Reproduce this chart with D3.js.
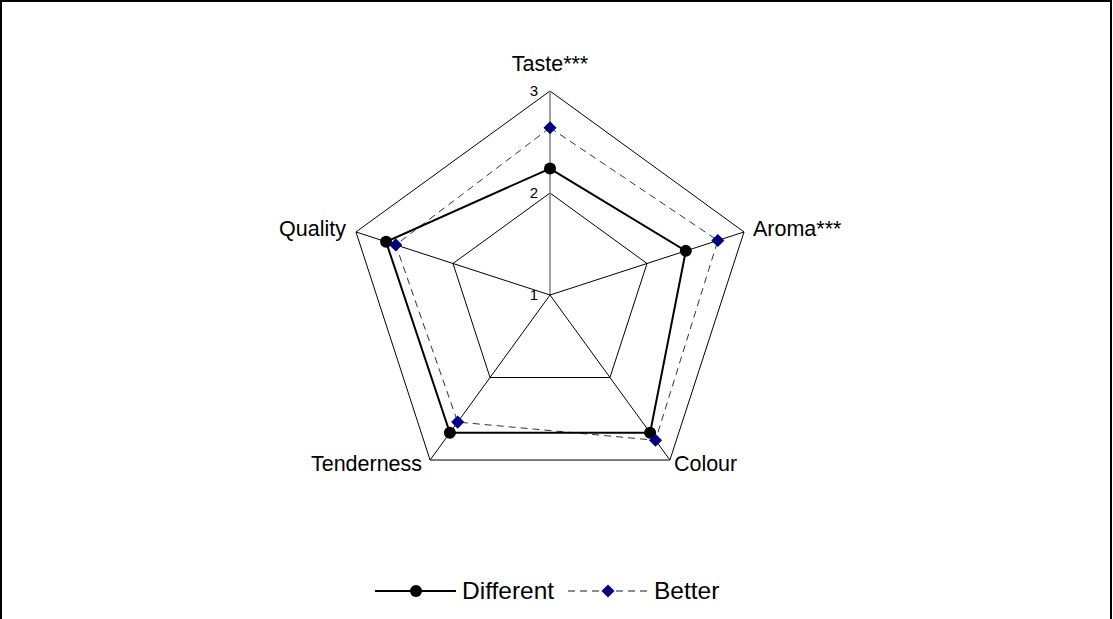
<!DOCTYPE html>
<html>
<head>
<meta charset="utf-8">
<script src="https://cdn.jsdelivr.net/npm/d3@7"></script>
<style>
  body { margin: 0; background: #fff; }
  svg { display: block; font-family: Arial, "Liberation Sans", sans-serif; }
</style>
</head>
<body>
<svg width="1113" height="619"></svg>
<script>
// chart data
var axes = ['Taste***', 'Aroma***', 'Colour', 'Tenderness', 'Quality'];
var different = [2.24, 2.40, 2.67, 2.67, 2.69];
var better = [2.64, 2.73, 2.76, 2.54, 2.59];
var ticks = [1, 2, 3];
var gridLevels = [2, 3];

var svg = d3.select('svg');
var cx = 550, cy = 295;

var r = d3.scaleLinear().domain([1, 3]).range([0, 204]);

function angle(i){
    return -Math.PI/2 + i * 2*Math.PI/axes.length;
}
function pt(i, v){
    var a = angle(i);
    return [cx + r(v)*Math.cos(a), cy + r(v)*Math.sin(a)];
}

// frame
svg.append('rect')
    .attr('x', 1).attr('y', 1)
    .attr('width', 1110).attr('height', 625)
    .attr('fill', 'none')
    .attr('stroke', '#000')
    .attr('stroke-width', 2);

var line = d3.line();

// grid pentagons
gridLevels.forEach(function(lv){
    var pts = axes.map(function(d, i){ return pt(i, lv); });
    svg.append('path')
        .attr('d', line(pts) + 'Z')
        .attr('fill', 'none')
        .attr('stroke', '#000')
        .attr('stroke-width', 1);
});

// spokes
axes.forEach(function(d, i){
    var p = pt(i, 3);
    svg.append('line')
        .attr('x1', cx).attr('y1', cy)
        .attr('x2', p[0]).attr('y2', p[1])
        .attr('stroke', i == 0 ? '#808080' : '#000')
        .attr('stroke-width', i == 0 ? 1.5 : 1);
});

// tick labels
ticks.forEach(function(t){
    svg.append('text')
        .attr('x', cx - 12)
        .attr('y', cy - r(t) + 5)
        .attr('text-anchor', 'end')
        .attr('font-size', 15)
        .attr('fill', '#000')
        .text(t);
});

// axis labels
var labelPos = [
    {dx: 0, dy: -20, anchor: 'middle'},
    {dx: 9, dy: 4, anchor: 'start'},
    {dx: 4, dy: 11, anchor: 'start'},
    {dx: -8, dy: 11, anchor: 'end'},
    {dx: -10, dy: 4, anchor: 'end'}
];
axes.forEach(function(d, i){
    var p = pt(i, 3);
    svg.append('text')
        .attr('x', p[0] + labelPos[i].dx)
        .attr('y', p[1] + labelPos[i].dy)
        .attr('text-anchor', labelPos[i].anchor)
        .attr('font-size', 21.5)
        .attr('fill', '#000')
        .text(d);
});

// series
var diffPts = different.map(function(v, i){ return pt(i, v); });
var betPts = better.map(function(v, i){ return pt(i, v); });

svg.append('path')
    .attr('d', line(betPts) + 'Z')
    .attr('fill', 'none')
    .attr('stroke', '#333')
    .attr('stroke-width', 1)
    .attr('stroke-dasharray', '7,5');

svg.append('path')
    .attr('d', line(diffPts) + 'Z')
    .attr('fill', 'none')
    .attr('stroke', '#000')
    .attr('stroke-width', 2);

var diamond = d3.symbol().type(d3.symbolDiamond2).size(110);

svg.selectAll('circle.diff').data(diffPts)
    .enter()
    .append('circle')
        .attr('class', 'diff')
        .attr('cx', function(d){ return d[0]; })
        .attr('cy', function(d){ return d[1]; })
        .attr('r', 6)
        .attr('fill', '#000');

svg.selectAll('path.bet').data(betPts)
    .enter()
    .append('path')
        .attr('class', 'bet')
        .attr('d', diamond)
        .attr('transform', function(d){ return 'translate(' + d[0] + ',' + d[1] + ')'; })
        .attr('fill', '#000080');

// legend
var ly = 591;
svg.append('line')
    .attr('x1', 375).attr('y1', ly).attr('x2', 456).attr('y2', ly)
    .attr('stroke', '#000').attr('stroke-width', 2);
svg.append('circle')
    .attr('cx', 416).attr('cy', ly).attr('r', 6).attr('fill', '#000');
svg.append('text')
    .attr('x', 462).attr('y', ly + 8)
    .attr('font-size', 24.5)
    .text('Different');

svg.append('line')
    .attr('x1', 568).attr('y1', ly).attr('x2', 648).attr('y2', ly)
    .attr('stroke', '#666').attr('stroke-width', 1.5)
    .attr('stroke-dasharray', '7,5');
svg.append('path')
    .attr('d', diamond)
    .attr('transform', 'translate(608,' + ly + ')')
    .attr('fill', '#000080');
svg.append('text')
    .attr('x', 654).attr('y', ly + 8)
    .attr('font-size', 24.5)
    .text('Better');
</script>
</body>
</html>
